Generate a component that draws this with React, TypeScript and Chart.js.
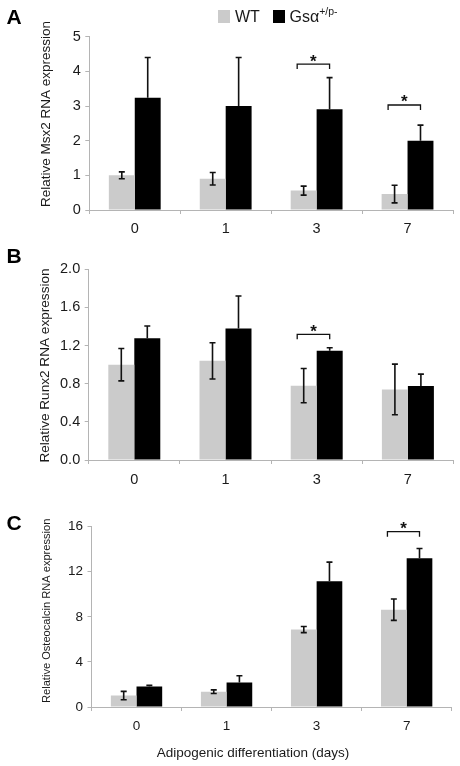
import React, { useEffect, useRef } from 'react';
import { Chart, registerables } from 'chart.js';

Chart.register(...registerables);

const FONT = '"Liberation Sans", Arial, Helvetica, sans-serif';
const GRAY = '#cbcbcb';
const BLACK = '#000000';
const AXIS = '#b4b4b4';
const TEXT = '#1a1a1a';

// ---------- data ----------
const categories = ['0', '1', '3', '7'];
const legendWT = 'WT';
const legendGsBase = 'Gsα';
const legendGsSup = '+/p-';
const xAxisTitle = 'Adipogenic differentiation (days)';

// Panel A: Msx2
const msx2Title = 'Relative Msx2 RNA expression';
const msx2WT = [1.0, 0.9, 0.56, 0.46];
const msx2WTErr = [0.1, 0.18, 0.13, 0.255];
const msx2Gs = [3.24, 3.0, 2.91, 2.0];
const msx2GsErr = [1.16, 1.4, 0.91, 0.45];
const msx2Sig = [null, null, 4.21, 3.03];
const msx2Max = 5;
const msx2Step = 1;

// Panel B: Runx2
const runx2Title = 'Relative Runx2 RNA expression';
const runx2WT = [1.0, 1.04, 0.78, 0.74];
const runx2WTErr = [0.17, 0.19, 0.18, 0.265];
const runx2Gs = [1.276, 1.38, 1.147, 0.776];
const runx2GsErr = [0.13, 0.34, 0.03, 0.125];
const runx2Sig = [null, null, 1.318, null];
const runx2Max = 2;
const runx2Step = 0.4;

// Panel C: Osteocalcin
const oscTitle = 'Relative Osteocalcin RNA expression';
const oscWT = [1.02, 1.36, 6.87, 8.64];
const oscWTErr = [0.37, 0.16, 0.27, 0.95];
const oscGs = [1.83, 2.18, 11.15, 13.2];
const oscGsErr = [0.09, 0.59, 1.71, 0.87];
const oscSig = [null, null, null, 15.56];
const oscMax = 16;
const oscStep = 4;

// ---------- layout ----------
const W = 460;

const panels = [
  {
    key: 'A', top: 0, height: 240,
    area: { left: 89.3, right: 453, top: 36.7, bottom: 210 },
    title: msx2Title, titleSize: 13.5, titleX: 46, titleY: 114,
    wt: msx2WT, wtErr: msx2WTErr, gs: msx2Gs, gsErr: msx2GsErr, sig: msx2Sig,
    max: msx2Max, step: msx2Step, decimals: 0, tickSize: 14.5, xPad: 6.4,
  },
  {
    key: 'B', top: 240, height: 260,
    area: { left: 88.7, right: 453.5, top: 29.3, bottom: 220 },
    title: runx2Title, titleSize: 13.6, titleX: 45, titleY: 125.5,
    wt: runx2WT, wtErr: runx2WTErr, gs: runx2Gs, gsErr: runx2GsErr, sig: runx2Sig,
    max: runx2Max, step: runx2Step, decimals: 1, tickSize: 14.5, xPad: 7,
  },
  {
    key: 'C', top: 500, height: 266,
    area: { left: 91.5, right: 451.7, top: 26.7, bottom: 207 },
    title: oscTitle, titleSize: 11.1, titleX: 46.7, titleY: 110.8,
    wt: oscWT, wtErr: oscWTErr, gs: oscGs, gsErr: oscGsErr, sig: oscSig,
    max: oscMax, step: oscStep, decimals: 0, tickSize: 13.5, xPad: 7,
  },
];

const errorBarPlugin = {
  id: 'errorBars',
  afterDatasetsDraw(chart: any, _args: any, opts: any) {
    const ctx = chart.ctx;
    const yScale = chart.scales.y;
    const wtMeta = chart.getDatasetMeta(0);
    const gsMeta = chart.getDatasetMeta(1);
    const wt = chart.data.datasets[0].data as number[];
    const gs = chart.data.datasets[1].data as number[];
    const cap = 3;
    ctx.save();
    ctx.strokeStyle = '#111';
    ctx.lineWidth = 1.6;
    wtMeta.data.forEach((bar: any, i: number) => {
      const x = bar.x;
      const yt = yScale.getPixelForValue(wt[i] + opts.wtErr[i]);
      const yb = yScale.getPixelForValue(wt[i] - opts.wtErr[i]);
      ctx.beginPath();
      ctx.moveTo(x, yt); ctx.lineTo(x, yb);
      ctx.moveTo(x - cap, yt); ctx.lineTo(x + cap, yt);
      ctx.moveTo(x - cap, yb); ctx.lineTo(x + cap, yb);
      ctx.stroke();
    });
    gsMeta.data.forEach((bar: any, i: number) => {
      const x = bar.x;
      const yt = yScale.getPixelForValue(gs[i] + opts.gsErr[i]);
      const yb = yScale.getPixelForValue(gs[i]);
      ctx.beginPath();
      ctx.moveTo(x, yt); ctx.lineTo(x, yb);
      ctx.moveTo(x - cap, yt); ctx.lineTo(x + cap, yt);
      ctx.stroke();
    });
    ctx.lineWidth = 1.3;
    (opts.sig as (number | null)[]).forEach((lvl, i) => {
      if (lvl == null) return;
      const wb = wtMeta.data[i];
      const gb = gsMeta.data[i];
      const xl = wb.x - wb.width / 4;
      const xr = gb.x;
      const yb = yScale.getPixelForValue(lvl);
      ctx.beginPath();
      ctx.moveTo(xl, yb + 5);
      ctx.lineTo(xl, yb);
      ctx.lineTo(xr, yb);
      ctx.lineTo(xr, yb + 5);
      ctx.stroke();
      ctx.fillStyle = '#111';
      ctx.font = `bold 17px ${FONT}`;
      ctx.textAlign = 'center';
      ctx.textBaseline = 'alphabetic';
      ctx.fillText('*', (xl + xr) / 2, yb + 2.5);
    });
    ctx.restore();
  },
};

// draws the y-axis title (text taken from the y scale options) at the panel's title spot
const yTitlePlugin = {
  id: 'yTitle',
  afterDraw(chart: any, _args: any, opts: any) {
    const text = chart.options.scales.y.title.text;
    const ctx = chart.ctx;
    ctx.save();
    ctx.translate(opts.x, opts.y);
    ctx.rotate(-Math.PI / 2);
    ctx.font = `${opts.size}px ${FONT}`;
    ctx.fillStyle = TEXT;
    ctx.textAlign = 'center';
    ctx.textBaseline = 'middle';
    ctx.fillText(text, 0, 0);
    ctx.restore();
  },
};

function buildConfig(p: any): any {
  const tickFont = { size: p.tickSize, family: FONT };
  return {
    type: 'bar',
    data: {
      labels: categories,
      datasets: [
        { label: legendWT, data: p.wt, backgroundColor: GRAY, borderWidth: 0, barPercentage: 1, categoryPercentage: 0.57 },
        { label: legendGsBase + legendGsSup, data: p.gs, backgroundColor: BLACK, borderWidth: 0, barPercentage: 1, categoryPercentage: 0.57 },
      ],
    },
    options: {
      animation: false,
      responsive: false,
      maintainAspectRatio: false,
      events: [],
      layout: { padding: { left: 0, right: W - p.area.right, top: p.area.top, bottom: 0 } },
      plugins: {
        legend: { display: false },
        tooltip: { enabled: false },
        errorBars: { wtErr: p.wtErr, gsErr: p.gsErr, sig: p.sig },
        yTitle: { x: p.titleX, y: p.titleY, size: p.titleSize },
      },
      scales: {
        x: {
          offset: true,
          grid: { display: true, drawOnChartArea: false, drawTicks: true, tickLength: 4, tickColor: AXIS, offset: true },
          border: { display: true, color: AXIS, width: 1 },
          ticks: { font: tickFont, color: TEXT, padding: p.xPad, maxRotation: 0, autoSkip: false },
          afterFit: (s: any) => { s.height = p.height - p.area.bottom; },
        },
        y: {
          min: 0,
          max: p.max,
          ticks: {
            stepSize: p.step,
            font: tickFont,
            color: TEXT,
            padding: 4.5,
            callback: (v: any) => Number(v).toFixed(p.decimals),
          },
          grid: { display: true, drawOnChartArea: false, drawTicks: true, tickLength: 4, tickColor: AXIS },
          border: { display: true, color: AXIS, width: 1 },
          title: { display: false, text: p.title },
          afterFit: (s: any) => { s.width = p.area.left; },
        },
      },
    },
    plugins: [errorBarPlugin, yTitlePlugin],
  };
}

function PanelChart({ spec }: { spec: any }) {
  const ref = useRef<HTMLCanvasElement>(null);
  useEffect(() => {
    const chart = new Chart(ref.current as HTMLCanvasElement, buildConfig(spec));
    return () => chart.destroy();
  }, [spec]);
  return (
    <canvas
      ref={ref}
      width={W}
      height={spec.height}
      style={{ position: 'absolute', left: 0, top: spec.top, width: W, height: spec.height, display: 'block' }}
    />
  );
}

const letterStyle = (top: number): React.CSSProperties => ({
  position: 'absolute',
  left: 6.5,
  top,
  font: `bold 21px/21px ${FONT}`,
  color: '#000',
});

export default function App() {
  return (
    <div
      style={{
        position: 'absolute',
        left: 0,
        top: 0,
        width: W,
        height: 766,
        background: '#fff',
        fontFamily: FONT,
        color: TEXT,
        overflow: 'hidden',
      }}
    >
      {panels.map((p) => (
        <PanelChart key={p.key} spec={p} />
      ))}
      <div style={letterStyle(6.2)}>A</div>
      <div style={letterStyle(244.9)}>B</div>
      <div style={letterStyle(511.7)}>C</div>

      {/* legend */}
      <div style={{ position: 'absolute', left: 217.5, top: 10, width: 12.5, height: 12.5, background: GRAY }} />
      <div style={{ position: 'absolute', left: 235, top: 8.5, font: `16px/16px ${FONT}`, whiteSpace: 'nowrap' }}>{legendWT}</div>
      <div style={{ position: 'absolute', left: 272.7, top: 10, width: 12.5, height: 12.5, background: BLACK }} />
      <div style={{ position: 'absolute', left: 289.5, top: 8.5, font: `16px/16px ${FONT}`, whiteSpace: 'nowrap' }}>
        {legendGsBase}
        <span style={{ position: 'relative', top: -7, fontSize: 10.5, lineHeight: '16px' }}>{legendGsSup}</span>
      </div>

      {/* x-axis title of the bottom panel */}
      <div style={{ position: 'absolute', left: 156.7, top: 745.3, font: `13.5px/16px ${FONT}`, whiteSpace: 'nowrap' }}>
        {xAxisTitle}
      </div>
    </div>
  );
}
